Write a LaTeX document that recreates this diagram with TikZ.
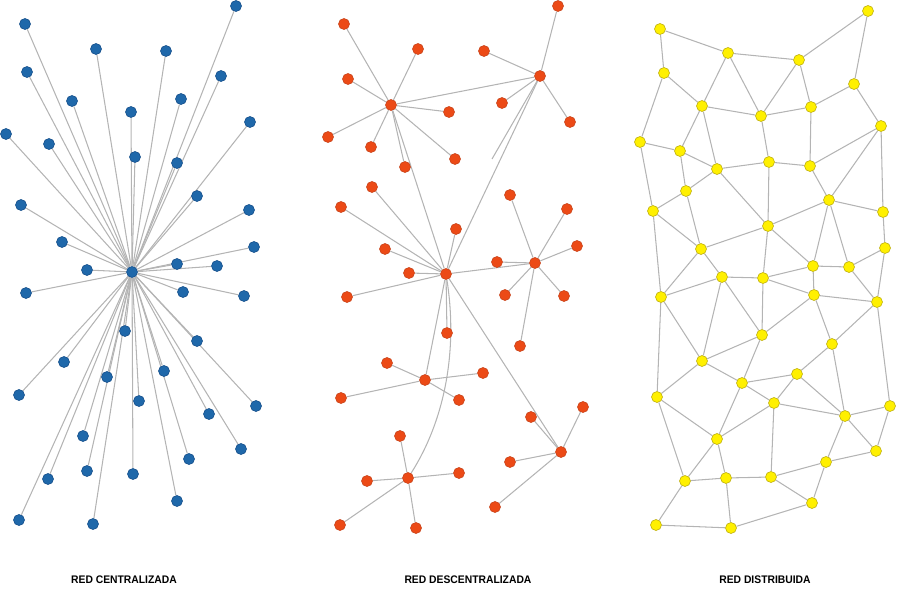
\documentclass[tikz,border=0pt]{standalone}
\usepackage{fontspec}
\setmainfont{Liberation Sans}
\newfontfamily\labfont[FakeStretch=0.94]{Liberation Sans}
\usetikzlibrary{backgrounds}
\definecolor{bfill}{RGB}{31,104,170}
\definecolor{bline}{RGB}{24,80,140}
\definecolor{ofill}{RGB}{236,74,22}
\definecolor{oline}{RGB}{200,70,30}
\definecolor{yfill}{RGB}{255,240,0}
\definecolor{yline}{RGB}{190,175,20}
\definecolor{edgec}{RGB}{180,180,180}
\tikzset{
  dot/.style={circle, inner sep=0pt, minimum size=11pt, line width=0.6pt},
  bnode/.style={dot, fill=bfill, draw=bline},
  onode/.style={dot, fill=ofill, draw=oline},
  ynode/.style={dot, fill=yfill, draw=yline},
  edge/.style={draw=edgec, line width=1.05pt},
  lab/.style={font=\labfont\bfseries\fontsize{11}{13}\selectfont, text=black, inner sep=0pt}
}
\begin{document}
\begin{tikzpicture}[x=1pt,y=-1pt]
\useasboundingbox (0,0) rectangle (897,589);
% ---------- centralized ----------
\node[bnode] (bc) at (132,272) {};
\foreach [count=\i] \x/\y in {25/24, 236/6, 96/49, 166/51, 27/72, 221/76, 72/101, 181/99, 131/112, 250/122, 6/134, 49/144, 135/157, 177/163, 197/196, 21/205, 249/210, 62/242, 254/247, 87/270, 177/264, 217/266, 26/293, 183/292, 244/296, 125/331, 197/341, 64/362, 107/377, 164/371, 19/395, 139/401, 256/406, 209/414, 83/436, 241/449, 189/459, 48/479, 87/471, 133/474, 177/501, 19/520, 93/524}{
  \node[bnode] (b\i) at (\x,\y) {};
  \begin{scope}[on background layer]
    \draw[edge] (bc) -- (b\i);
  \end{scope}
}
% ---------- decentralized ----------
\node[onode] (h1) at (391,105) {};
\node[onode] (h2) at (540,76) {};
\node[onode] (h3) at (446,274) {};
\node[onode] (h4) at (535,263) {};
\node[onode] (h5) at (425,380) {};
\node[onode] (h6) at (408,478) {};
\node[onode] (h7) at (561,452) {};
\coordinate (dangle) at (492,159);
\foreach [count=\i] \x/\y/\h in {344/24/h1, 418/49/h1, 348/79/h1, 449/112/h1, 328/137/h1, 371/147/h1, 455/159/h1, 405/167/h1,
  558/6/h2, 484/51/h2, 502/103/h2, 570/122/h2,
  372/187/h3, 341/207/h3, 456/229/h3, 385/249/h3, 409/273/h3, 347/297/h3, 447/333/h3,
  497/262/h4, 510/195/h4, 567/209/h4, 577/246/h4, 505/295/h4, 564/296/h4, 520/346/h4,
  387/363/h5, 483/373/h5, 341/398/h5, 459/400/h5,
  531/417/h7, 583/407/h7, 510/462/h7, 495/507/h7,
  400/436/h6, 367/481/h6, 459/473/h6, 340/525/h6, 416/528/h6}{
  \node[onode] (o\i) at (\x,\y) {};
  \begin{scope}[on background layer]
    \draw[edge] (o\i) -- (\h);
  \end{scope}
}
\begin{scope}[on background layer]
  \draw[edge] (h1) -- (h2);
  \draw[edge] (h1) -- (h3);
  \draw[edge] (h2) -- (h3);
  \draw[edge] (h2) -- (dangle);
  \draw[edge] (h3) -- (h4);
  \draw[edge] (h3) -- (h5);
  \draw[edge] (h3) -- (h7);
  \draw[edge] (h3) .. controls (458,350) and (445,420) .. (h6);
\end{scope}
% ---------- distributed ----------
\foreach \n/\x/\y in {a1/660/29, a2/868/11, a3/728/53, a4/799/60, a5/664/73, a6/854/84, a7/702/106, a8/761/116, a9/811/107, a10/881/126, a11/640/142, a12/680/151, a13/717/169, a14/769/162, a15/810/166, a16/686/191, a17/829/200, a18/653/211, a19/883/212, a20/768/226, a21/701/249, a22/885/248, a23/813/266, a24/849/267, a25/722/277, a26/763/278,
  b1/661/297, b2/814/295, b3/877/302, b4/762/335, b5/832/344, b6/702/361, b7/797/374, b8/742/383, b9/657/397, b10/774/403, b11/890/406, b12/845/416, b13/717/439, b14/876/451, b15/826/462, b16/685/481, b17/726/478, b18/771/477, b19/812/503, b20/656/525, b21/731/528}{
  \node[ynode] (y\n) at (\x,\y) {};
}
\begin{scope}[on background layer]
\foreach \p/\q in {a1/a3, a1/a5, a3/a4, a4/a2, a2/a6, a3/a7, a3/a8, a4/a8, a4/a9, a5/a7, a5/a11, a6/a9, a6/a10, a7/a8, a7/a12, a7/a13, a8/a9, a8/a14, a9/a15, a10/a15, a10/a17, a10/a19, a11/a12, a11/a18, a12/a13, a12/a16, a13/a14, a13/a16, a13/a20, a14/a15, a14/a20, a15/a17, a16/a18, a16/a21, a17/a19, a17/a20, a17/a23, a17/a24, a18/a21, a18/b1, a19/a22, a20/a21, a20/a26, a20/a23, a21/a25, a21/b1, a22/a24, a22/b3, a23/a24, a23/a26, a25/a26, a25/b1, a25/b6, a25/b4, a26/b4, a26/b2, a23/b2, a24/b3,
  b2/b3, b2/b5, b3/b5, b3/b11, b1/b6, b1/b9, b4/b6, b4/b8, b4/b2, b5/b7, b5/b12, b6/b8, b6/b9, b7/b8, b7/b10, b7/b12, b8/b10, b8/b13, b9/b13, b9/b16, b10/b12, b10/b13, b10/b18, b11/b12, b11/b14, b12/b14, b12/b15, b13/b16, b13/b17, b14/b15, b15/b18, b15/b19, b16/b17, b16/b20, b17/b18, b17/b21, b18/b19, b19/b21, b20/b21}{
  \draw[edge] (y\p) -- (y\q);
}
\end{scope}
% ---------- labels ----------
\node[lab] (l1) at (124,580) {RED CENTRALIZADA};
\node[lab] (l2) at (468,580) {RED DESCENTRALIZADA};
\node[lab] (l3) at (765,580) {RED DISTRIBUIDA};
\end{tikzpicture}
\end{document}
